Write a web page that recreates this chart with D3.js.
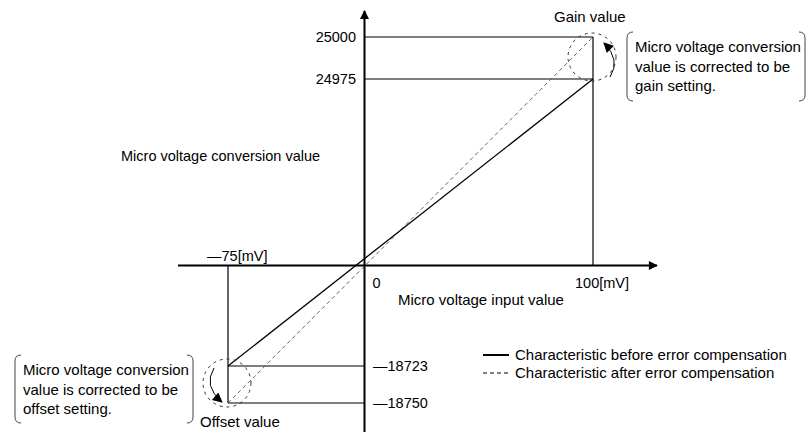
<!DOCTYPE html>
<html>
<head>
<meta charset="utf-8">
<script src="https://cdn.jsdelivr.net/npm/d3@7"></script>
<style>
  body { margin: 0; background: #fff; }
  text { font-family: "Liberation Sans", Arial, sans-serif; font-size: 15px; fill: #000; }
  text.num { font-size: 14.5px; }
  text.ytitle { font-size: 14.5px; }
</style>
</head>
<body>
<div id="chart"></div>
<script>
// Chart values
const inputRange = [-75, 100];           // mV
const beforeValues = [-18723, 24975];    // before error compensation
const afterValues = [-18750, 25000];     // after error compensation
const xTickLabels = ["\u201475[mV]", "0", "100[mV]"];
const yTopLabels = ["25000", "24975"];
const yBottomLabels = ["\u201418723", "\u201418750"];
const legendLabels = ["Characteristic before error compensation", "Characteristic after error compensation"];
const gainNote = ["Micro voltage conversion", "value is corrected to be", "gain setting."];
const offsetNote = ["Micro voltage conversion", "value is corrected to be", "offset setting."];

const width = 811, height = 432;

const svg = d3.select("#chart").append("svg")
    .attr("width", width)
    .attr("height", height);

// Schematic (not proportional) scales
const x = d3.scaleLinear()
    .domain([-75, 0, 100])
    .range([228, 364.5, 593]);

const y = d3.scaleLinear()
    .domain([-18750, -18723, 0, 24975, 25000])
    .range([403, 366, 265.5, 79, 37]);

// Arrow markers
const defs = svg.append("defs");
defs.append("marker")
    .attr("id", "head")
    .attr("viewBox", "0 0 10 10")
    .attr("refX", 9).attr("refY", 5)
    .attr("markerWidth", 11).attr("markerHeight", 9)
    .attr("markerUnits", "userSpaceOnUse")
    .attr("orient", "auto")
  .append("path")
    .attr("d", "M0,0 L10,5 L0,10 Z")
    .attr("fill", "#000");
defs.append("marker")
    .attr("id", "curl")
    .attr("viewBox", "0 0 10 10")
    .attr("refX", 9).attr("refY", 5)
    .attr("markerWidth", 12).attr("markerHeight", 10)
    .attr("markerUnits", "userSpaceOnUse")
    .attr("orient", "auto")
  .append("path")
    .attr("d", "M0,0 L10,5 L0,10 Z")
    .attr("fill", "#000");

// Guide lines
const guide = svg.append("g").attr("stroke", "#000").attr("stroke-width", 1.2);
[afterValues[1], beforeValues[1]].forEach(v => {
  guide.append("line").attr("x1", x(0)).attr("x2", x(inputRange[1])).attr("y1", y(v)).attr("y2", y(v));
});
[beforeValues[0], afterValues[0]].forEach(v => {
  guide.append("line").attr("x1", x(inputRange[0])).attr("x2", x(0)).attr("y1", y(v)).attr("y2", y(v));
});
guide.append("line").attr("x1", x(inputRange[1])).attr("x2", x(inputRange[1])).attr("y1", y(afterValues[1])).attr("y2", y(0));
guide.append("line").attr("x1", x(inputRange[0])).attr("x2", x(inputRange[0])).attr("y1", y(0)).attr("y2", y(afterValues[0]));

// Axes
svg.append("line")
    .attr("x1", 178).attr("x2", 657)
    .attr("y1", y(0)).attr("y2", y(0))
    .attr("stroke", "#000").attr("stroke-width", 2)
    .attr("marker-end", "url(#head)");
svg.append("line")
    .attr("x1", x(0)).attr("x2", x(0))
    .attr("y1", height).attr("y2", 11)
    .attr("stroke", "#000").attr("stroke-width", 2)
    .attr("marker-end", "url(#head)");

// Characteristic lines
const line = d3.line().x(d => x(d[0])).y(d => y(d[1]));
svg.append("path")
    .datum(d3.zip(inputRange, afterValues))
    .attr("d", line)
    .attr("fill", "none")
    .attr("stroke", "#555")
    .attr("stroke-width", 0.9)
    .attr("stroke-dasharray", "4,3");
svg.append("path")
    .datum(d3.zip(inputRange, beforeValues))
    .attr("d", line)
    .attr("fill", "none")
    .attr("stroke", "#000")
    .attr("stroke-width", 1.3);

// Tick labels
svg.append("text").attr("class", "num").attr("x", 207).attr("y", 261).text(xTickLabels[0]);
svg.append("text").attr("class", "num").attr("x", x(0) + 8).attr("y", 288).text(xTickLabels[1]);
svg.append("text").attr("class", "num").attr("x", 575).attr("y", 288).text(xTickLabels[2]);

[afterValues[1], beforeValues[1]].forEach((v, i) => {
  svg.append("text").attr("class", "num").attr("x", 356).attr("y", y(v) + 5)
     .attr("text-anchor", "end").text(yTopLabels[i]);
});
[beforeValues[0], afterValues[0]].forEach((v, i) => {
  svg.append("text").attr("class", "num").attr("x", 373).attr("y", y(v) + 5).text(yBottomLabels[i]);
});

// Axis titles
svg.append("text").attr("class", "ytitle").attr("x", 121).attr("y", 161).text("Micro voltage conversion value");
svg.append("text").attr("x", 398).attr("y", 305).text("Micro voltage input value");

// Dashed circles and curved arrows
const circ = svg.append("g").attr("fill", "none").attr("stroke", "#333")
    .attr("stroke-width", 1).attr("stroke-dasharray", "3,4");
circ.append("circle").attr("cx", 592).attr("cy", 57).attr("r", 24);
circ.append("circle").attr("cx", 227).attr("cy", 383).attr("r", 24);

svg.append("path")
    .attr("d", "M610,77 Q621,60 604,43")
    .attr("fill", "none").attr("stroke", "#000").attr("stroke-width", 1)
    .attr("marker-end", "url(#curl)");
svg.append("path")
    .attr("d", "M214,368 Q203,386 222,402")
    .attr("fill", "none").attr("stroke", "#000").attr("stroke-width", 1)
    .attr("marker-end", "url(#curl)");

svg.append("text").attr("x", 554).attr("y", 22).text("Gain value");
svg.append("text").attr("x", 200).attr("y", 427).text("Offset value");

// Bracketed notes
function note(x0, x1, y0, y1, lines) {
  const r = 6;
  const g = svg.append("g");
  g.append("path")
    .attr("d", `M${x0 + r},${y0} Q${x0},${y0} ${x0},${y0 + r} L${x0},${y1 - r} Q${x0},${y1} ${x0 + r},${y1}`)
    .attr("fill", "none").attr("stroke", "#444").attr("stroke-width", 1);
  g.append("path")
    .attr("d", `M${x1 - r},${y0} Q${x1},${y0} ${x1},${y0 + r} L${x1},${y1 - r} Q${x1},${y1} ${x1 - r},${y1}`)
    .attr("fill", "none").attr("stroke", "#444").attr("stroke-width", 1);
  g.selectAll("text")
    .data(lines)
    .enter().append("text")
    .attr("x", x0 + 8)
    .attr("y", (d, i) => y0 + 20 + i * 19.5)
    .text(d => d);
}
note(627, 805, 32, 101, gainNote);
note(15, 193, 355, 423, offsetNote);

// Legend
const legend = svg.append("g").attr("transform", "translate(483, 355)");
legendLabels.forEach((d, i) => {
  legend.append("line")
    .attr("x1", 0).attr("x2", 26)
    .attr("y1", i * 18).attr("y2", i * 18)
    .attr("stroke", "#000")
    .attr("stroke-width", i === 0 ? 2 : 1)
    .attr("stroke-dasharray", i === 0 ? null : "4,3");
  legend.append("text")
    .attr("x", 32)
    .attr("y", i * 18 + 5)
    .text(d);
});
</script>
</body>
</html>
